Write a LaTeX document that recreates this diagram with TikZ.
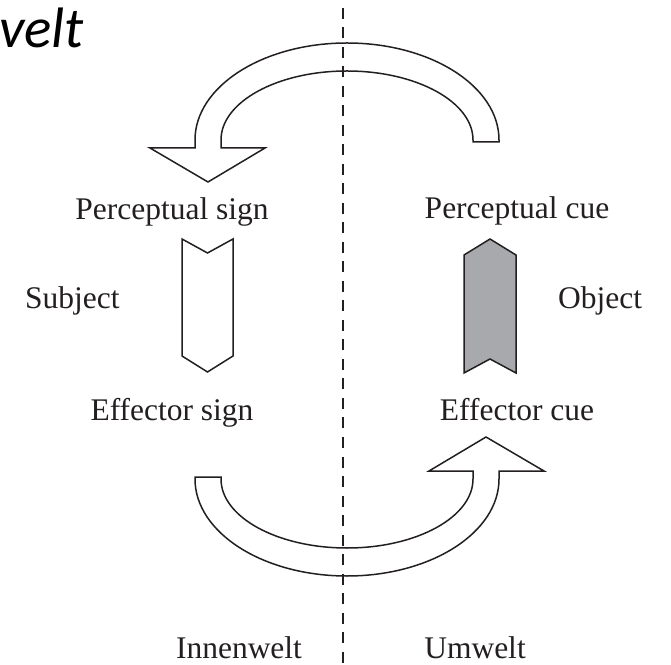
\documentclass[tikz,border=0pt]{standalone}
\usepackage{fontspec}
\setmainfont{Liberation Serif}
\newfontfamily\titlefont{Carlito}
\usepackage{xcolor}
\definecolor{ink}{HTML}{231F20}
\definecolor{cuegray}{HTML}{A7A9AC}

\begin{document}
\begin{tikzpicture}[
  x=1pt, y=1pt,
  lbl/.style={inner sep=0pt, anchor=base, text=ink, font=\fontsize{31.5}{36}\selectfont},
  outline/.style={draw=ink, line width=1.5pt, line join=miter},
  divider/.style={draw=ink, line width=1.6pt, dash pattern=on 11pt off 8.5pt},
  bendarrow/.pic={
    \path[outline] (126,167.5) -- (152,167.5) -- (152,169.5)
      arc[start angle=0, end angle=180, x radius=152, y radius=97]
      -- (-152,161.5) -- (-197,161.5) -- (-139,127.5) -- (-82,161.5)
      -- (-126,161.5) -- (-126,169.5)
      arc[start angle=180, end angle=0, x radius=126, y radius=69]
      -- cycle;
  }
]
\useasboundingbox (0,0) rectangle (671,664);
\coordinate (top) at (343,656);
\coordinate (bot) at (343,0);
\draw[divider] (top) -- (bot);

\pic at (347,354.5) {bendarrow};
\pic[rotate=180] at (347,354.5) {bendarrow};

\path[outline, fill=white] (182,425) -- (207.5,411) -- (233,425) -- (233,308)
  -- (207.5,292) -- (182,308) -- cycle;
\path[outline, fill=cuegray] (464,291) -- (490,305) -- (516,291) -- (516,409)
  -- (490,425) -- (464,409) -- cycle;

\node[lbl] (psign) at (172,444) {Perceptual sign};
\node[lbl] (esign) at (172,243) {Effector sign};
\node[lbl, anchor=base west] (subj) at (25,355) {Subject};
\node[lbl] (pcue) at (517,445) {Perceptual cue};
\node[lbl, anchor=base west] (obj) at (558,355) {Object};
\node[lbl] (ecue) at (517,243) {Effector cue};
\node[lbl] (inner) at (239,6) {Innenwelt};
\node[lbl] (outer) at (475,6) {Umwelt};
\node[inner sep=0pt, anchor=base west, font=\titlefont\itshape\fontsize{57}{62}\selectfont]
  (title) at (-1,616) {velt};
\end{tikzpicture}
\end{document}
